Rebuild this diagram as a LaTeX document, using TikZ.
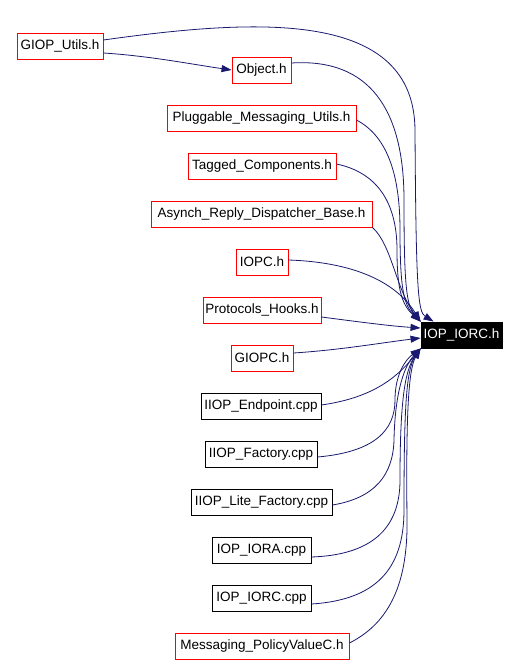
\documentclass[tikz,border=0pt]{standalone}
\usepackage{fontspec}
\setmainfont{Liberation Sans}
\usetikzlibrary{arrows.meta}
\definecolor{edgec}{HTML}{191970}
\begin{document}
\begin{tikzpicture}[x=1pt,y=-1pt,
  box/.style={draw=red,line width=0.9pt,fill=white,minimum height=26pt,inner sep=0pt,
    font=\fontsize{13.5}{15}\selectfont,text=black},
  bbox/.style={box,draw=black},
  sel/.style={box,draw=black,fill=black,text=white},
  dep/.style={draw=edgec,line width=0.8pt,-{Triangle[length=10pt,width=7pt]}}]
\path[use as bounding box,fill=white] (0,0) rectangle (520,664);
\node[box,minimum width=86pt] (giop) at (60,46) {GIOP\_Utils.h};
\node[box,minimum width=59pt] (object) at (261.5,70) {Object.h};
\node[box,minimum width=189pt] (plug) at (261.5,118) {Pluggable\_Messaging\_Utils.h};
\node[box,minimum width=148pt] (tagged) at (262,166) {Tagged\_Components.h};
\node[box,minimum width=221pt] (asynch) at (261.5,214) {Asynch\_Reply\_Dispatcher\_Base.h};
\node[box,minimum width=52pt] (iopc) at (262,262) {IOPC.h};
\node[box,minimum width=118pt] (proto) at (262,310) {Protocols\_Hooks.h};
\node[box,minimum width=62pt] (giopc) at (262,358) {GIOPC.h};
\node[bbox,minimum width=120pt] (endp) at (261,406) {IIOP\_Endpoint.cpp};
\node[bbox,minimum width=112pt] (fact) at (261,454) {IIOP\_Factory.cpp};
\node[bbox,minimum width=141pt] (lite) at (261.5,502) {IIOP\_Lite\_Factory.cpp};
\node[bbox,minimum width=99pt] (iora) at (261.5,550) {IOP\_IORA.cpp};
\node[bbox,minimum width=99pt] (iorccpp) at (261.5,598) {IOP\_IORC.cpp};
\node[box,minimum width=174pt] (msg) at (262,646) {Messaging\_PolicyValueC.h};
\node[sel,minimum width=81pt] (iorc) at (461.5,335) {IOP\_IORC.h};
% edges
\draw[dep] ([yshift=6pt]giop.east) .. controls (260,18) and (414,10) .. (415,130)
  .. controls (416,290) and (418,312) .. ([xshift=13pt]iorc.north west);
\draw[dep] ([yshift=-7pt]giop.east) .. controls (150,56) and (190,64) .. (object.west);
\draw[dep] ([yshift=7pt]object.east) .. controls (370,58) and (404,110) .. (404,200)
  .. controls (404,280) and (406,305) .. (iorc.north west);
\draw[dep] ([yshift=-2pt]plug.east) .. controls (385,135) and (400,170) .. (400,230)
  .. controls (400,290) and (404,305) .. (iorc.north west);
\draw[dep] ([yshift=2pt]tagged.east) .. controls (375,172) and (397,200) .. (397,250)
  .. controls (397,290) and (402,305) .. (iorc.north west);
\draw[dep] (asynch.south east) .. controls (392,245) and (396,290) .. (iorc.north west);
\draw[dep] ([yshift=2pt]iopc.east) .. controls (350,262) and (395,280) .. (iorc.north west);
\draw[dep] ([yshift=-7pt]proto.east) .. controls (360,322) and (390,326) .. ([yshift=7pt]iorc.west);
\draw[dep] ([yshift=5pt]giopc.east) .. controls (340,350) and (380,343) .. ([yshift=-3pt]iorc.west);
\draw[dep] ([yshift=1pt]endp.east) .. controls (370,398) and (395,380) .. (iorc.south west);
\draw[dep] ([yshift=-3pt]fact.east) .. controls (375,452) and (395,430) .. (395,400)
  .. controls (395,375) and (405,360) .. (iorc.south west);
\draw[dep] ([yshift=-3pt]lite.east) .. controls (375,498) and (393,475) .. (394,440)
  .. controls (395,390) and (405,365) .. (iorc.south west);
\draw[dep] ([yshift=-7pt]iora.east) .. controls (370,555) and (400,530) .. (400,480)
  .. controls (400,400) and (405,370) .. (iorc.south west);
\draw[dep] ([yshift=-6pt]iorccpp.east) .. controls (375,600) and (404,570) .. (404,510)
  .. controls (404,410) and (406,370) .. (iorc.south west);
\draw[dep] ([yshift=3pt]msg.east) .. controls (385,625) and (408,590) .. (407,520)
  .. controls (406,420) and (408,370) .. (iorc.south west);
\end{tikzpicture}
\end{document}
